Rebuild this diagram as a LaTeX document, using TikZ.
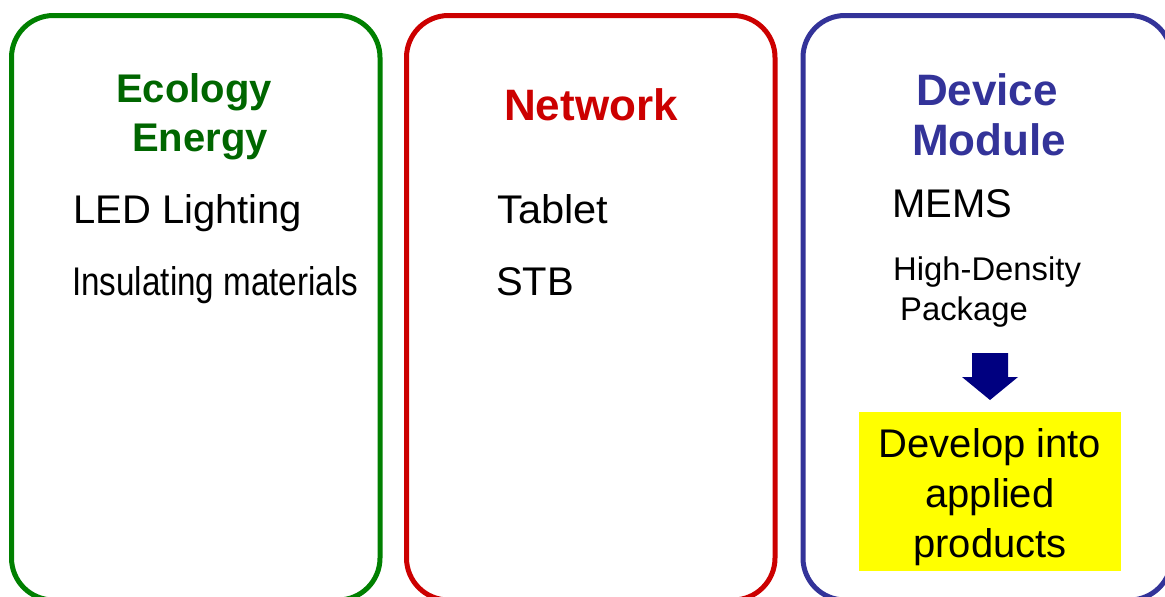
\documentclass[tikz,border=0pt]{standalone}
\usepackage{fontspec}
\setmainfont{Liberation Sans}
\definecolor{boxgreen}{RGB}{0,128,0}
\definecolor{titlegreen}{RGB}{0,102,0}
\definecolor{boxred}{RGB}{204,0,0}
\definecolor{boxblue}{RGB}{51,51,153}
\definecolor{arrownavy}{RGB}{0,0,128}
\definecolor{resyellow}{RGB}{255,255,0}
\begin{document}
\begin{tikzpicture}[x=1pt,y=-1pt,
  panel/.style={draw, line width=5pt, rounded corners=42pt, minimum width=368.5pt, minimum height=584.5pt, inner sep=0pt},
  body/.style={font=\fontsize{40}{48}\selectfont, inner sep=0pt, text=black},
  small/.style={font=\fontsize{32.8}{38}\selectfont, inner sep=0pt, text=black},
  title/.style={font=\bfseries\fontsize{40}{48}\selectfont, inner sep=0pt},
  bigtitle/.style={font=\bfseries\fontsize{44}{52}\selectfont, inner sep=0pt}]
\useasboundingbox (0,0) rectangle (1165,597);
\fill[white] (0,0) rectangle (1165,597);

% panels
\node[panel, boxgreen] (eco) at (195.75,307.75) {};
\node[panel, boxred]   (net) at (590.75,307.75) {};
\node[panel, boxblue]  (dev) at (987.25,307.75) {};

% titles
\node[title, text=titlegreen, anchor=base] (ecoA) at (194,102) {Ecology};
\node[title, text=titlegreen, anchor=base] (ecoB) at (200,151) {Energy};
\node[bigtitle, text=boxred, anchor=base] (netA) at (591,120) {Network};
\node[bigtitle, text=boxblue, anchor=base] (devA) at (987,105) {Device};
\node[bigtitle, text=boxblue, anchor=base] (devB) at (989,155) {Module};

% items
\node[body, anchor=base west] (led) at (73,223) {LED Lighting};
\node[body, anchor=base west] (ins) at (72,295) {\scalebox{0.83}[1]{Insulating materials}};
\node[body, anchor=base west] (tab) at (497,223) {\scalebox{1.04}[1]{Tablet}};
\node[body, anchor=base west] (stb) at (496,295) {STB};
\node[body, anchor=base west] (mems) at (892,217) {MEMS};
\node[small, anchor=base west] (hd) at (893,280) {High-Density};
\node[small, anchor=base west] (pkg) at (900,320) {Package};

% arrow
\fill[arrownavy] (972,353) -- (1008,353) -- (1008,377) -- (1018,377) -- (990,400) -- (962,377) -- (972,377) -- cycle;

% result box
\node[fill=resyellow, minimum width=262pt, minimum height=159pt, inner sep=0pt] (res) at (990,491.5) {};
\node[body, anchor=base] (resA) at (990,457) {Develop into};
\node[body, anchor=base] (resB) at (990,507) {applied};
\node[body, anchor=base] (resC) at (990,557) {products};
\end{tikzpicture}
\end{document}
